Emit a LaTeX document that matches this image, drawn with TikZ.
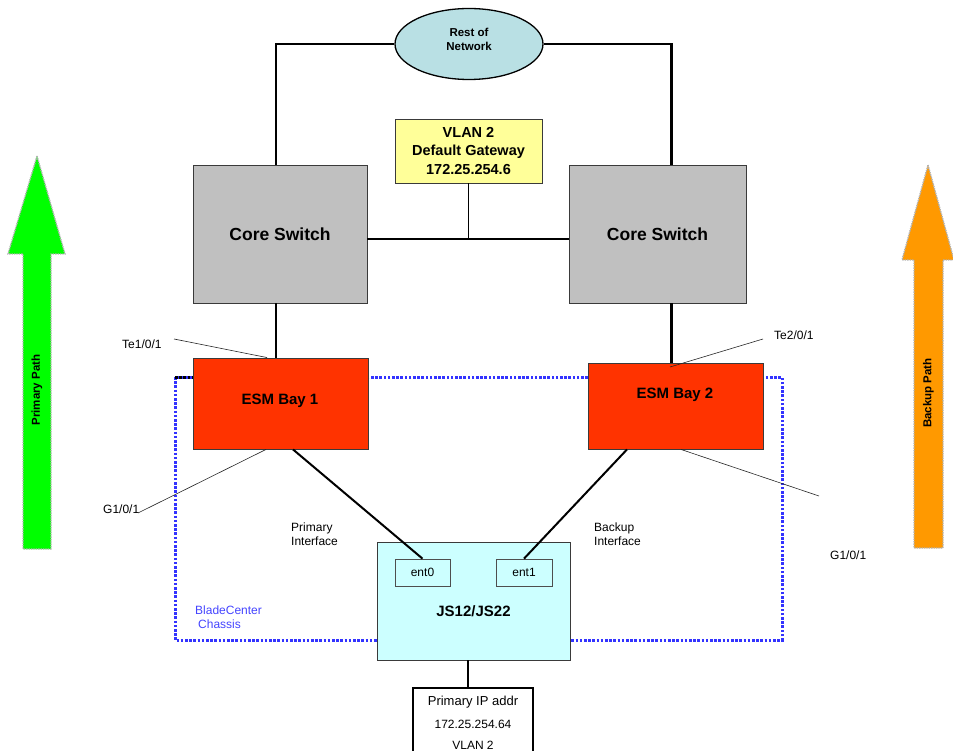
\documentclass[tikz,border=0pt]{standalone}
\usepackage{fontspec}
\setmainfont{Liberation Sans}
\usetikzlibrary{shapes.geometric}

\definecolor{cloudfill}{HTML}{B9E0E4}
\definecolor{gwfill}{HTML}{FFFF99}
\definecolor{corefill}{HTML}{C0C0C0}
\definecolor{esmfill}{HTML}{FF3300}
\definecolor{bladefill}{HTML}{CCFFFF}
\definecolor{chassisblue}{HTML}{3333FF}
\definecolor{labelblue}{HTML}{4444FF}
\definecolor{primgreen}{HTML}{00FF00}
\definecolor{backorange}{HTML}{FF9900}
\definecolor{edgegray}{HTML}{3A3A3A}

\tikzset{
  box/.style={draw=edgegray, line width=0.9pt, inner sep=0pt, anchor=center},
  link/.style={line width=2.8pt, black},
  thinlink/.style={line width=2pt, black},
  leader/.style={line width=0.6pt, black!85},
  chassis/.style={line width=3pt, dash pattern=on 2.6pt off 1.6pt},
  pathArrow/.style={draw=black!30, line width=1.4pt, dash pattern=on 1.4pt off 1pt},
  smalltxt/.style={font=\fontsize{12}{14}\selectfont, inner sep=0pt},
  boldtxt/.style={font=\bfseries\fontsize{15}{18}\selectfont, inner sep=0pt},
}

\begin{document}
\begin{tikzpicture}[x=1pt, y=-1pt]
\useasboundingbox (0,0) rectangle (953,751);
\clip (0,0) rectangle (953,751);

% BladeCenter chassis outline (behind the modules)
\draw[chassis, draw=chassisblue] (175,377) rectangle (782,640);
\draw[chassis, draw=black] (175,377) -- (193,377);

% upstream network
\node[box, ellipse, fill=cloudfill, line width=1.3pt, draw=black, minimum width=148pt, minimum height=71pt] (cloud) at (469,44) {};
\node[align=center, inner sep=0pt, font=\bfseries\fontsize{11.5}{14.5}\selectfont] (cloudtxt) at (469,39.5) {Rest of\\Network};

\node[box, fill=gwfill, minimum width=147pt, minimum height=64pt, align=center,
      font=\bfseries\fontsize{14.5}{18.5}\selectfont] (gw) at (468.5,151) {VLAN 2\\Default Gateway\\172.25.254.6};

% core switches
\node[box, fill=corefill, minimum width=174pt, minimum height=138pt,
      font=\bfseries\fontsize{17.5}{21}\selectfont] (core1) at (280,234) {Core Switch};
\node[box, fill=corefill, minimum width=177pt, minimum height=138pt,
      font=\bfseries\fontsize{17.5}{21}\selectfont] (core2) at (657.5,234) {Core Switch};

% ethernet switch modules
\node[box, fill=esmfill, minimum width=175pt, minimum height=91pt] (esm1) at (280.5,403.5) {};
\node[boldtxt] (esm1txt) at (280,401) {ESM Bay 1};
\node[box, fill=esmfill, minimum width=175pt, minimum height=86pt] (esm2) at (675.5,406) {};
\node[boldtxt] (esm2txt) at (675,395) {ESM Bay 2};

% blade server
\node[box, fill=bladefill, minimum width=193pt, minimum height=118pt] (js) at (473.5,601) {};
\node[boldtxt] (jstxt) at (473.5,611) {JS12/JS22};
\node[box, draw=edgegray!90, line width=0.7pt, minimum width=55pt, minimum height=27pt,
      font=\fontsize{12}{14}\selectfont] (ent0) at (422.5,572.5) {ent0};
\node[box, draw=edgegray!90, line width=0.7pt, minimum width=56pt, minimum height=27pt,
      font=\fontsize{12}{14}\selectfont] (ent1) at (524,572.5) {ent1};

% address box
\node[box, draw=black, line width=1.3pt, minimum width=120pt, minimum height=84pt] (ip) at (473,730) {};
\node[inner sep=0pt, font=\fontsize{13}{15}\selectfont] (ip1) at (473,702) {Primary IP addr};
\node[smalltxt] (ip2) at (473,724.5) {172.25.254.64};
\node[smalltxt] (ip3) at (473,745) {VLAN 2};

% links
\coordinate (c1top) at ([xshift=-4pt]core1.north);
\coordinate (c2top) at ([xshift=14pt]core2.north);
\draw[link] (c1top) |- (cloud.west);
\draw[link] (c2top) |- (cloud.east);
\draw[link] ([yshift=-5pt]core1.east) -- ([yshift=-5pt]core2.west);
\coordinate (busmid) at (468.5,239);
\draw[line width=0.9pt] (gw.south) -- (busmid);
\draw[link] ([xshift=-4pt]core1.south) -- ([xshift=-4pt]core1.south |- esm1.north);
\draw[link] ([xshift=14pt]core2.south) -- ([xshift=14pt]core2.south |- esm2.north);
\draw[thinlink] ([xshift=12.5pt]esm1.south) -- (ent0.north);
\draw[thinlink] ([xshift=-48.5pt]esm2.south) -- (ent1.north);
\draw[link] ([xshift=-5.5pt]js.south) -- ([xshift=-5.5pt]js.south |- ip.north);

% port labels and leaders
\node[smalltxt, anchor=west] (te1) at (122,344) {Te1/0/1};
\coordinate (te1end) at (174,339);
\draw[leader] (te1end) -- ([xshift=-13.5pt]esm1.north);
\node[smalltxt, anchor=west] (te2) at (774,335) {Te2/0/1};
\coordinate (te2end) at (763,339);
\draw[leader] (te2end) -- (670,367);
\node[smalltxt, anchor=west] (g1) at (103,509) {G1/0/1};
\draw[leader] (138,513) -- ([xshift=-14.5pt]esm1.south);
\node[smalltxt, anchor=west] (g2) at (830,555) {G1/0/1};
\draw[leader] ([xshift=5.5pt]esm2.south) -- (819,496);

\node[smalltxt, anchor=west, align=left] (prim) at (291,534) {Primary\\Interface};
\node[smalltxt, anchor=west, align=left] (back) at (594,534) {Backup\\Interface};
\node[smalltxt, anchor=west, align=left, text=labelblue] (bc) at (195,617.5) {BladeCenter\\\hspace*{3pt}Chassis};

% path direction arrows
\filldraw[pathArrow, fill=primgreen] (37,156) -- (65,254) -- (51,254) -- (51,549) -- (23,549)
  -- (23,254) -- (8,254) -- cycle;
\node[rotate=90, font=\bfseries\fontsize{11.5}{14}\selectfont] (primpath) at (37,390) {Primary Path};
\filldraw[pathArrow, fill=backorange] (928,165) -- (954,260) -- (943,260) -- (943,548) -- (914,548)
  -- (914,260) -- (902,260) -- cycle;
\node[rotate=90, font=\bfseries\fontsize{11.5}{14}\selectfont] (backpath) at (928.5,393) {Backup Path};
\end{tikzpicture}
\end{document}
